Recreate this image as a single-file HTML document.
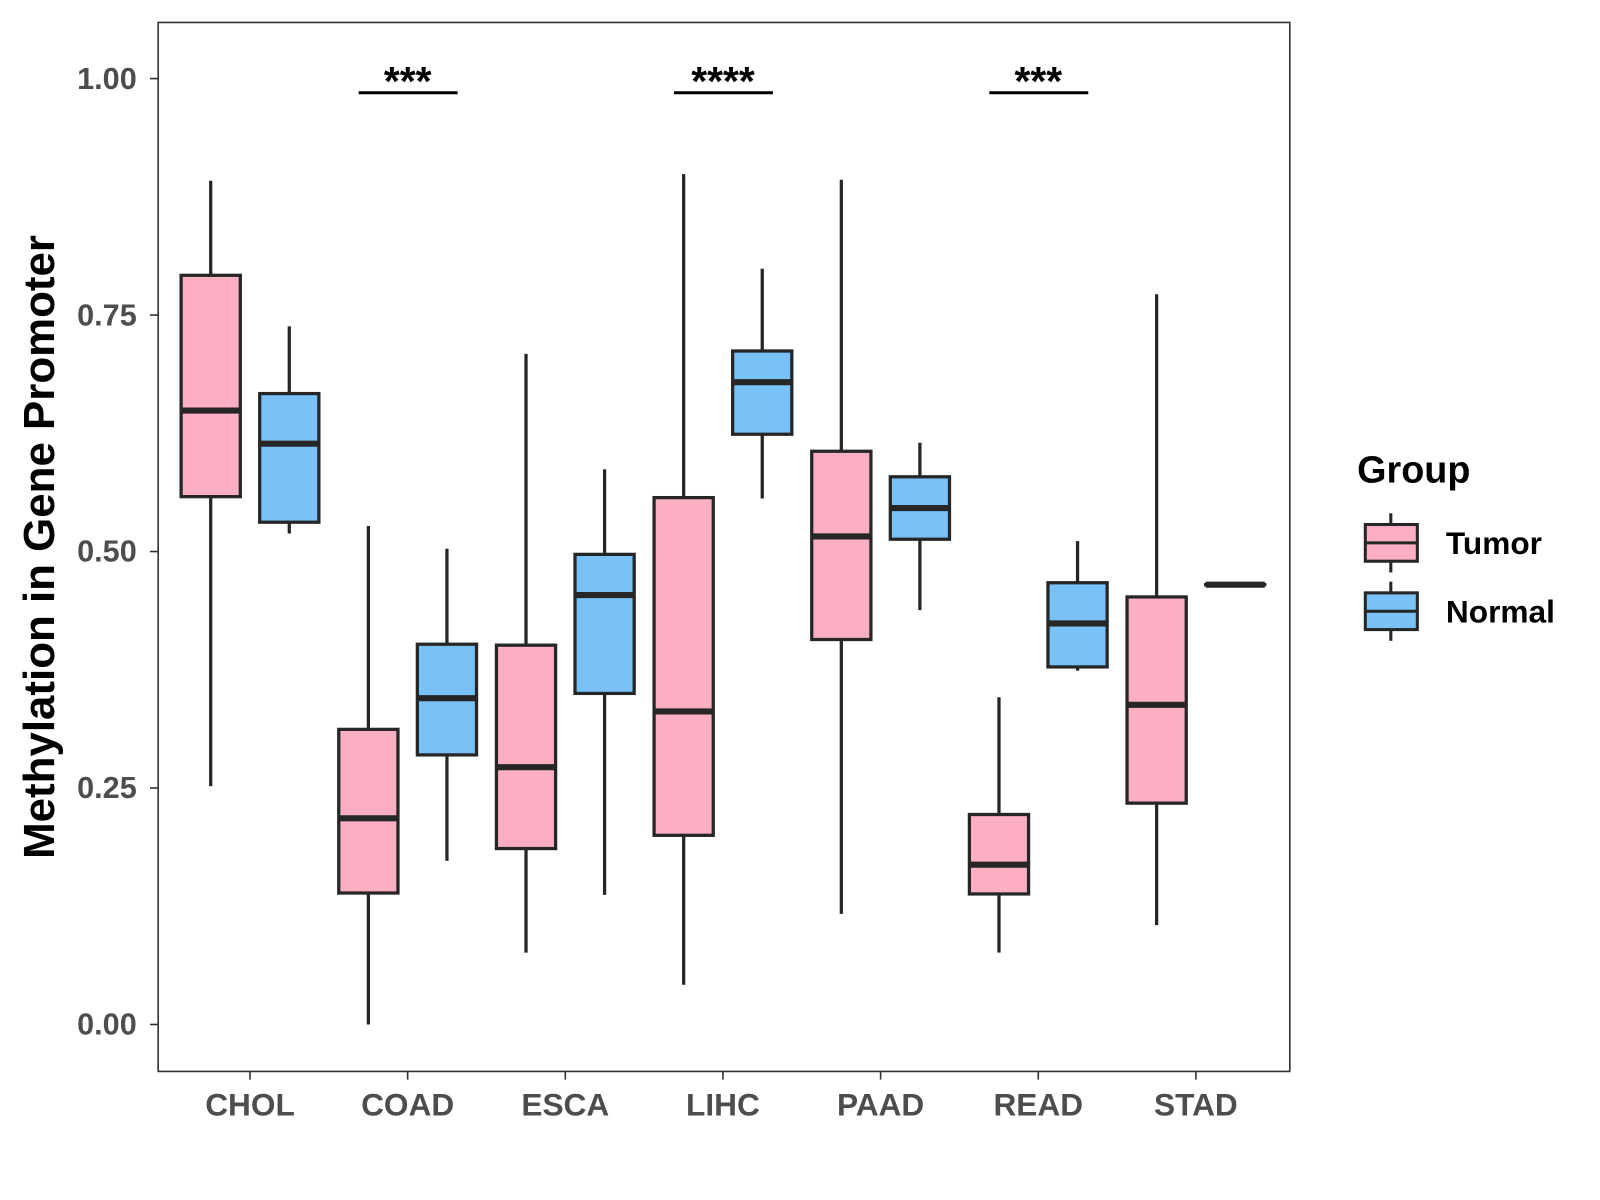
<!DOCTYPE html>
<html><head><meta charset="utf-8"><style>
html,body{margin:0;padding:0;background:#fff;}
svg{display:block;font-family:"Liberation Sans",Arial,sans-serif;}
</style></head><body>
<svg id="chart" width="1600" height="1200" viewBox="0 0 1568 1176" xmlns="http://www.w3.org/2000/svg"></svg>
<script>
const categories = ["CHOL","COAD","ESCA","LIHC","PAAD","READ","STAD"];
// [low, q1, median, q3, high]
const tumorStats = [
  [0.252,0.558,0.649,0.792,0.892],
  [0.000,0.139,0.218,0.312,0.527],
  [0.076,0.186,0.272,0.401,0.709],
  [0.042,0.200,0.331,0.557,0.899],
  [0.117,0.407,0.516,0.606,0.893],
  [0.076,0.138,0.169,0.222,0.346],
  [0.105,0.234,0.338,0.452,0.772]
];
const normalStats = [
  [0.519,0.531,0.614,0.667,0.738],
  [0.173,0.285,0.345,0.402,0.503],
  [0.137,0.350,0.454,0.497,0.587],
  [0.556,0.624,0.679,0.712,0.799],
  [0.438,0.513,0.546,0.579,0.615],
  [0.374,0.378,0.424,0.467,0.511],
  [0.465,0.465,0.465,0.465,0.465]
];
const yTicks = [0,0.25,0.5,0.75,1.0];
const yTickLabels = ["0.00","0.25","0.50","0.75","1.00"];
const sigCategories = ["COAD","LIHC","READ"];
const sigLabels = ["***","****","***"];
const sigLevel = 0.985;

const NS="http://www.w3.org/2000/svg";
const svg=document.getElementById('chart');
const P={l:155,r:1264,t:22,b:1050};
const y=v=>1004-v*927;
const x=i=>245+i*154.5;
function mk(tag,attrs,parent){const e=document.createElementNS(NS,tag);for(const k in attrs)e.setAttribute(k,attrs[k]);(parent||svg).appendChild(e);return e;}
function txt(s,attrs){const e=mk('text',attrs);e.textContent=s;return e;}

const panel=mk('rect',{x:P.l,y:P.t,width:P.r-P.l,height:P.b-P.t,fill:'#fff',stroke:'#333','stroke-width':1.6});



yTicks.forEach((v,i)=>{
  const t=mk('line',{x1:P.l-8,x2:P.l,y1:y(v),y2:y(v),stroke:'#333','stroke-width':1.6});
  
  
  const l=txt(yTickLabels[i],{x:P.l-21,y:y(v)+10,'text-anchor':'end','font-size':30,'font-weight':'bold',fill:'#4d4d4d'});
  
  
});
categories.forEach((c,i)=>{
  const t=mk('line',{x1:x(i),x2:x(i),y1:P.b,y2:P.b+8,stroke:'#333','stroke-width':1.6});
  
  
  const l=txt(c,{x:x(i),y:P.b+43,'text-anchor':'middle','font-size':31,'font-weight':'bold',fill:'#4d4d4d'});
  
  
});
const yt=txt('Methylation in Gene Promoter',{x:0,y:0,transform:'translate(53,536) rotate(-90)','text-anchor':'middle','font-size':43,'font-weight':'bold',fill:'#000'});



function box(cx,s,fill,name){
  const g=mk('g',{});
  
  
  const w=29;
  mk('line',{x1:cx,x2:cx,y1:y(s[4]),y2:y(s[3]),stroke:'#262626','stroke-width':3.2},g);
  mk('line',{x1:cx,x2:cx,y1:y(s[1]),y2:y(s[0]),stroke:'#262626','stroke-width':3.2},g);
  mk('rect',{x:cx-w,y:y(s[3]),width:2*w,height:Math.max(0.01,y(s[1])-y(s[3])),fill:fill,stroke:'#262626','stroke-width':3.2},g);
  mk('line',{x1:cx-w,x2:cx+w,y1:y(s[2]),y2:y(s[2]),stroke:'#262626','stroke-width':6},g);
}
categories.forEach((c,i)=>{
  box(x(i)-38.5,tumorStats[i],'#fcafc2','box-tumor-'+c.toLowerCase());
  box(x(i)+38.5,normalStats[i],'#78c2f8','box-normal-'+c.toLowerCase());
});
sigCategories.forEach((c,k)=>{
  const i=categories.indexOf(c);
  const ln=mk('line',{x1:x(i)-48,x2:x(i)+49,y1:y(sigLevel),y2:y(sigLevel),stroke:'#000','stroke-width':3});
  
  
  const t=txt(sigLabels[k],{x:x(i),y:y(sigLevel)+2,'text-anchor':'middle','font-size':40,'font-weight':'bold',fill:'#000'});
  
  
});
// legend
const lt=txt('Group',{x:1330,y:473,'font-size':37,'font-weight':'bold',fill:'#000'});


[['Tumor','#fcafc2',532],['Normal','#78c2f8',599]].forEach(([n,f,cy])=>{
  const g=mk('g',{});
  
  
  mk('line',{x1:1363,x2:1363,y1:cy-29,y2:cy+29,stroke:'#262626','stroke-width':3},g);
  mk('rect',{x:1338,y:cy-18,width:51,height:36,fill:f,stroke:'#262626','stroke-width':3},g);
  mk('line',{x1:1338,x2:1389,y1:cy,y2:cy,stroke:'#262626','stroke-width':3},g);
  const t=mk('text',{x:1417,y:cy+11,'font-size':31,'font-weight':'bold',fill:'#000'},g);
  t.textContent=n;
});
</script>
</body></html>
